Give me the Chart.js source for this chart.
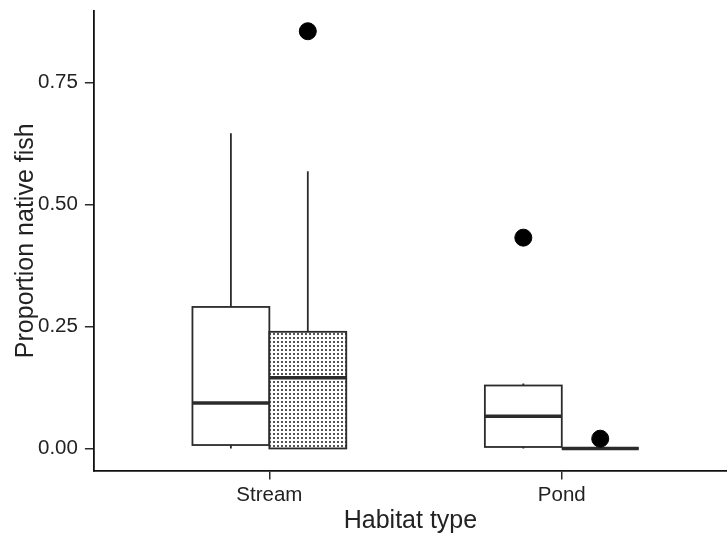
<!DOCTYPE html>
<html>
<head>
<meta charset="utf-8">
<script src="https://cdn.jsdelivr.net/npm/chart.js@4.4.1/dist/chart.umd.min.js"></script>
<style>
  html, body { margin: 0; padding: 0; background: #fff; }
  #wrap { width: 727px; height: 535px; position: relative; }
</style>
</head>
<body>
<div id="wrap"><canvas id="chart"></canvas></div>
<script>
// Habitat categories on the x axis
const categories = ['Stream', 'Pond'];
const yTicks = [0, 0.25, 0.5, 0.75];

// open (white) boxes
const plainLow = [0.0, 0.0];
const plainQ1 = [0.007, 0.003];
const plainMedian = [0.093, 0.066];
const plainQ3 = [0.290, 0.129];
const plainHigh = [0.646, 0.133];
const plainOutliers = [[], [0.432]];

// dotted boxes
const dottedLow = [0.0, 0.0];
const dottedQ1 = [0.0, 0.0];
const dottedMedian = [0.145, 0.0];
const dottedQ3 = [0.239, 0.0];
const dottedHigh = [0.568, 0.0];
const dottedOutliers = [[0.855], [0.02]];

const BOX_W = 0.263; // box width in x units (category spacing = 1)
const INK = '#2b2b2b';

// dotted fill pattern
const makeDots = () => {
  const c = document.createElement('canvas');
  c.width = 4; c.height = 4;
  const g = c.getContext('2d');
  g.fillStyle = '#ffffff';
  g.fillRect(0, 0, 4, 4);
  g.fillStyle = '#555555';
  g.fillRect(1, 1, 2, 2);
  return g.createPattern(c, 'repeat');
};

const boxSeries = [
  { low: plainLow, q1: plainQ1, med: plainMedian, q3: plainQ3, high: plainHigh, side: -1, fill: '#ffffff' },
  { low: dottedLow, q1: dottedQ1, med: dottedMedian, q3: dottedQ3, high: dottedHigh, side: 1, fill: null }
];

// outlier points, placed at the centre of their box
const outlierPoints = [];
plainOutliers.forEach((vals, i) => vals.forEach(v => outlierPoints.push({ x: i + 1 - BOX_W / 2, y: v })));
dottedOutliers.forEach((vals, i) => vals.forEach(v => outlierPoints.push({ x: i + 1 + BOX_W / 2, y: v })));

const boxPlugin = {
  id: 'boxes',
  beforeDatasetsDraw(chart) {
    const { ctx, scales: { x, y } } = chart;
    const dots = makeDots();
    ctx.save();
    boxSeries.forEach(s => {
      categories.forEach((cat, i) => {
        const c = i + 1;
        const x0 = x.getPixelForValue(s.side < 0 ? c - BOX_W : c);
        const x1 = x.getPixelForValue(s.side < 0 ? c : c + BOX_W);
        const xm = (x0 + x1) / 2;
        const yq1 = y.getPixelForValue(s.q1[i]);
        const yq3 = y.getPixelForValue(s.q3[i]);
        ctx.strokeStyle = INK;
        ctx.lineWidth = 1.8;
        // whiskers
        ctx.beginPath();
        ctx.moveTo(xm, yq3);
        ctx.lineTo(xm, y.getPixelForValue(s.high[i]));
        ctx.moveTo(xm, yq1);
        ctx.lineTo(xm, y.getPixelForValue(s.low[i]));
        ctx.stroke();
        // box
        ctx.fillStyle = s.fill || dots;
        ctx.fillRect(x0, yq3, x1 - x0, yq1 - yq3);
        ctx.strokeRect(x0, yq3, x1 - x0, yq1 - yq3);
        // median
        const ym = y.getPixelForValue(s.med[i]);
        ctx.lineWidth = 3.6;
        ctx.beginPath();
        ctx.moveTo(x0, ym);
        ctx.lineTo(x1, ym);
        ctx.stroke();
      });
    });
    ctx.restore();
  }
};

const tickFont = { family: 'Liberation Sans, Arial, sans-serif', size: 20.5, lineHeight: 1 };
const titleFont = { family: 'Liberation Sans, Arial, sans-serif', size: 25 };

new Chart(document.getElementById('chart'), {
  type: 'scatter',
  data: {
    datasets: [{
      label: 'Outliers',
      data: outlierPoints,
      backgroundColor: '#000000',
      borderColor: '#000000',
      pointRadius: 8.5,
      pointHoverRadius: 8.5
    }]
  },
  options: {
    responsive: true,
    maintainAspectRatio: false,
    animation: false,
    layout: { autoPadding: false, padding: { top: 11, right: 0, bottom: 0, left: 9 } },
    plugins: {
      legend: { display: false },
      tooltip: { enabled: false }
    },
    scales: {
      x: {
        type: 'linear',
        min: 0.4,
        max: 2.565,
        afterBuildTicks: (axis) => { axis.ticks = categories.map((c, i) => ({ value: i + 1 })); },
        afterFit: (axis) => { axis.paddingLeft = 0; axis.paddingRight = 0; },
        ticks: {
          color: '#222',
          font: tickFont,
          padding: 6,
          callback: (v) => categories[v - 1]
        },
        grid: { display: true, drawOnChartArea: false, drawTicks: true, tickLength: 9, color: INK, lineWidth: 1.5 },
        border: { display: true, color: '#111', width: 1.8 },
        title: { display: true, text: 'Habitat type', color: '#222', font: titleFont, padding: { top: -6, bottom: -1 } }
      },
      y: {
        min: -0.0452,
        max: 0.8965,
        afterBuildTicks: (axis) => { axis.ticks = yTicks.map(v => ({ value: v })); },
        afterFit: (axis) => { axis.paddingTop = 0; axis.paddingBottom = 0; },
        ticks: {
          color: '#222',
          font: tickFont,
          padding: 7,
          callback: (v) => v.toFixed(2)
        },
        grid: { display: true, drawOnChartArea: false, drawTicks: true, tickLength: 9, color: INK, lineWidth: 1.5 },
        border: { display: true, color: '#111', width: 1.8 },
        title: { display: true, text: 'Proportion native fish', color: '#222', font: titleFont, padding: { top: 2, bottom: -10 } }
      }
    }
  },
  plugins: [boxPlugin]
});
</script>
</body>
</html>
